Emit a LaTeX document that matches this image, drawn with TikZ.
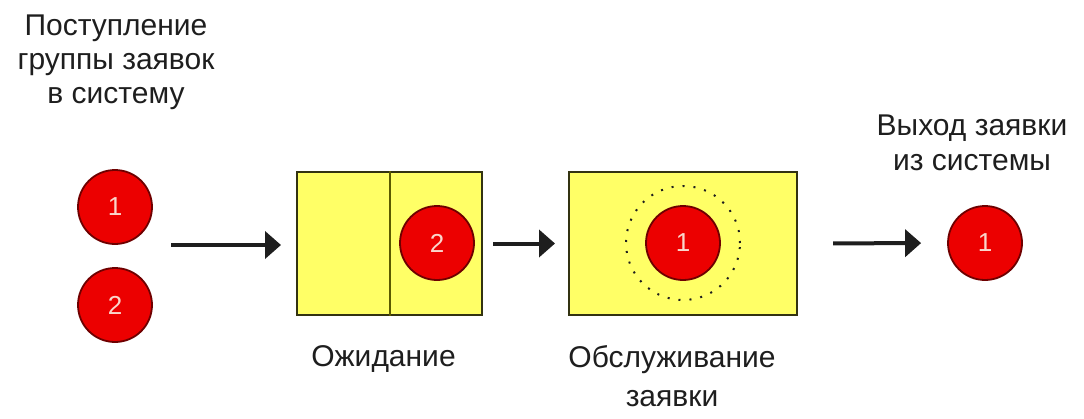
\documentclass[tikz,border=0pt]{standalone}
\usepackage{fontspec}
\setmainfont{Liberation Sans}
\usetikzlibrary{arrows.meta,positioning}

\definecolor{claimred}{RGB}{236,0,0}
\definecolor{claimedge}{RGB}{110,0,0}
\definecolor{claimtext}{RGB}{250,214,204}
\definecolor{boxfill}{RGB}{255,255,102}
\definecolor{boxedge}{RGB}{51,51,17}
\definecolor{divider}{RGB}{90,90,0}
\definecolor{ink}{RGB}{30,30,30}

\begin{document}
\begin{tikzpicture}[x=1pt, y=-1pt,
    >={Triangle[length=16pt,width=27pt]},
    node distance=29pt,
    claim/.style={circle, draw=claimedge, line width=1.8pt, fill=claimred,
      minimum size=74pt, inner sep=0pt, text=claimtext,
      font=\fontsize{26}{26}\selectfont},
    queue/.style={rectangle, draw=boxedge, line width=2pt, fill=boxfill,
      minimum height=143pt, inner sep=0pt},
    caption/.style={align=center, inner sep=0pt, anchor=north, text=ink,
      font=\fontsize{30}{35}\selectfont},
    flow/.style={->, line width=4pt, draw=ink}
    ]
    \useasboundingbox (0,0) rectangle (1084,418);

    % incoming group
    \node[claim] (in1) at (115,207) {1};
    \node[claim] (in2) at (115,305) {2};

    % waiting room
    \node[queue, minimum width=185pt] (wait) at (389.5,243.5) {};
    \draw[divider, line width=2pt] (wait.north) -- (wait.south);
    \node[claim] (q2) at (437,243) {2};

    % server
    \node[queue, minimum width=228pt] (serve) at (683,243.5) {};
    \node[circle, draw=ink, line width=2pt, dash pattern=on 2pt off 9pt,
      minimum size=114pt] (zone) at (683,243) {};
    \node[claim] (s1) at (683,243) {1};

    % leaving
    \node[claim] (out1) at (985,243) {1};

    % captions
    \node[caption, font=\fontsize{30}{34}\selectfont] (arrive) at (116,15)
      {Поступление\\группы заявок\\в систему};
    \node[caption] (leave) at (972,115) {Выход заявки\\из системы};
    \node[caption, below=29pt of wait, xshift=-6pt] (waitcap) {Ожидание};
    \node[caption, below=29pt of serve, xshift=-11pt] (servecap)
      {Обслуживание\\[4pt]заявки};

    \coordinate (feed) at (171,245);
    \draw[flow, shorten >=15pt] (feed) -- (feed -| wait.west);
    \draw[flow, shorten <=10pt, shorten >=13pt] (wait.east) -- (serve.west);
    \draw[flow, shorten <=35pt, shorten >=26pt] (serve.east) -- (out1.west);
\end{tikzpicture}
\end{document}
